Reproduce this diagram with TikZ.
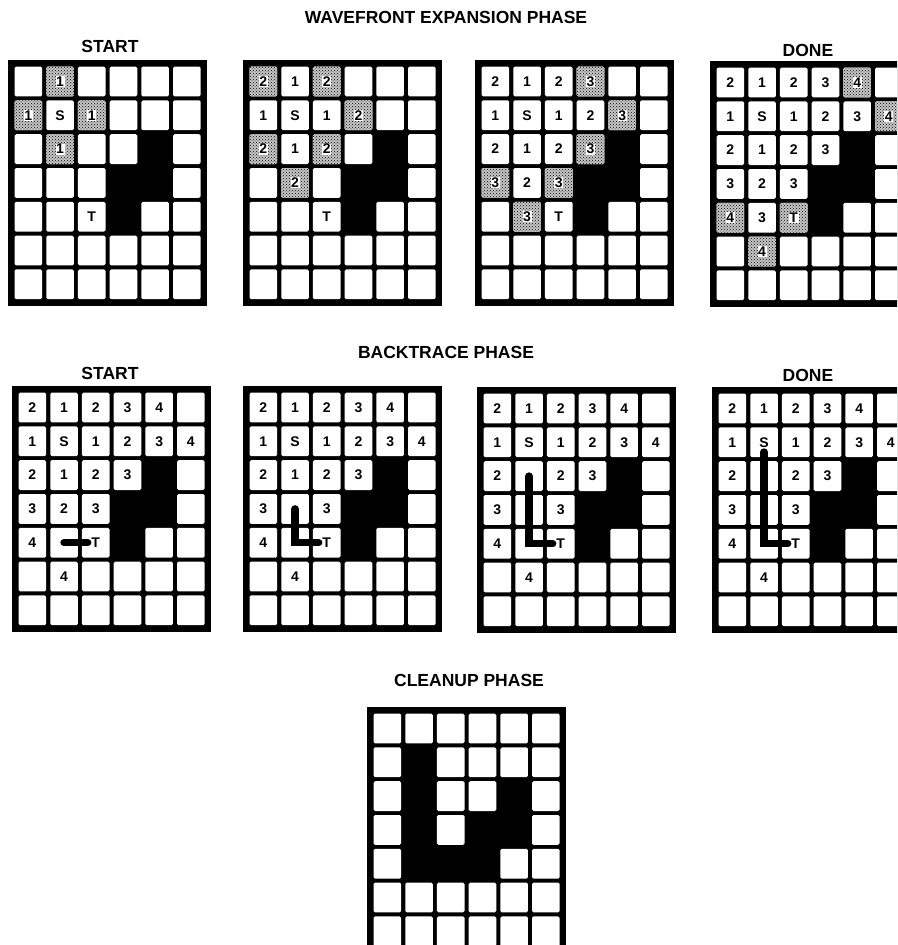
\documentclass[tikz,border=0pt]{standalone}
\usepackage{fontspec}
\setmainfont{Liberation Sans}
\usetikzlibrary{patterns,calc}

\begin{document}
\begin{tikzpicture}[x=1pt,y=-1pt,
  wall/.style={fill=black},
  cellbox/.style={fill=white,rounded corners=1.5pt},
  dotted cell/.style={preaction={fill=black!22},pattern=crosshatch dots,pattern color=black,rounded corners=1.5pt},
  num/.style={font=\fontsize{14}{14}\selectfont\bfseries,inner sep=0.6pt},
  shnum/.style={num,fill=white},
  phase/.style={font=\fontsize{17.5}{18}\selectfont\bfseries},
  trace/.style={line width=7.5pt,line cap=round,shorten >=3pt}]
\useasboundingbox (0,0) rectangle (897,945);
\clip (0,0) rectangle (897,945);

\foreach \g/\gx/\gy in {1/8/60,2/243/60,3/475/60,4/710/61,5/12/386,6/243/386,7/477/387,8/712/387,9/367/707} {
  \fill[wall] (\gx,\gy) rectangle ++(199,245.6);
  \foreach \c in {0,...,5}
    \foreach \r in {0,...,6} {
      \coordinate (g\g-\c-\r) at (\gx+20.35+31.7*\c,\gy+21.5+33.8*\r);
      \path[cellbox] ($(g\g-\c-\r)+(-13.8,-14.9)$) rectangle ($(g\g-\c-\r)+(13.8,14.9)$);
    }
}

\foreach \g in {1,...,8}
  \foreach \c/\r in {4/2,3/3,4/3,3/4}
    \fill[wall] ($(g\g-\c-\r)+(-16,-17)$) rectangle ($(g\g-\c-\r)+(16,17)$);
\foreach \c/\r in {1/1,1/2,4/2,1/3,3/3,4/3,1/4,2/4,3/4}
  \fill[wall] ($(g9-\c-\r)+(-16,-17)$) rectangle ($(g9-\c-\r)+(16,17)$);

\foreach \g/\c/\r/\txt in {1/1/0/1,1/0/1/1,1/2/1/1,1/1/2/1,
    2/0/0/2,2/2/0/2,2/3/1/2,2/0/2/2,2/2/2/2,2/1/3/2,
    3/3/0/3,3/4/1/3,3/3/2/3,3/0/3/3,3/2/3/3,3/1/4/3,
    4/4/0/4,4/5/1/4,4/0/4/4,4/2/4/T,4/1/5/4} {
  \path[dotted cell] ($(g\g-\c-\r)+(-13.8,-14.9)$) rectangle ($(g\g-\c-\r)+(13.8,14.9)$);
  \node[shnum] (n\g-\c-\r) at (g\g-\c-\r) {\txt};
}

\foreach \g/\c/\r/\txt in {1/1/1/S,1/2/4/T,
    2/1/0/1,2/0/1/1,2/1/1/S,2/2/1/1,2/1/2/1,2/2/4/T,
    3/0/0/2,3/1/0/1,3/2/0/2,3/0/1/1,3/1/1/S,3/2/1/1,3/3/1/2,3/0/2/2,3/1/2/1,3/2/2/2,3/1/3/2,3/2/4/T,
    4/0/0/2,4/1/0/1,4/2/0/2,4/3/0/3,4/0/1/1,4/1/1/S,4/2/1/1,4/3/1/2,4/4/1/3,
    4/0/2/2,4/1/2/1,4/2/2/2,4/3/2/3,4/0/3/3,4/1/3/2,4/2/3/3,4/1/4/3,
    5/1/2/1,5/1/3/2,6/1/2/1}
  \node[num] (n\g-\c-\r) at (g\g-\c-\r) {\txt};

\foreach \g in {5,...,8}
  \foreach \c/\r/\txt in {0/0/2,1/0/1,2/0/2,3/0/3,4/0/4,0/1/1,1/1/S,2/1/1,3/1/2,4/1/3,5/1/4,
      0/2/2,2/2/2,3/2/3,0/3/3,2/3/3,0/4/4,2/4/T,1/5/4}
    \node[num] (n\g-\c-\r) at (g\g-\c-\r) {\txt};

\draw[trace] (g5-1-4) -- (n5-2-4.west);
\draw[trace] (g6-1-3) |- (n6-2-4.west);
\draw[trace] (g7-1-2) |- (n7-2-4.west);
\draw[trace] ($(n8-1-1.south)+(0,4)$) |- (n8-2-4.west);

\node[phase] (wave) at (446,17) {WAVEFRONT EXPANSION PHASE};
\node[phase] (start1) at (110,46) {START};
\node[phase] (done1) at (808,50) {DONE};
\node[phase] (back) at (446,352) {BACKTRACE PHASE};
\node[phase] (start2) at (110,373) {START};
\node[phase] (done2) at (808,375) {DONE};
\node[phase] (clean) at (469,680) {CLEANUP PHASE};
\end{tikzpicture}
\end{document}
